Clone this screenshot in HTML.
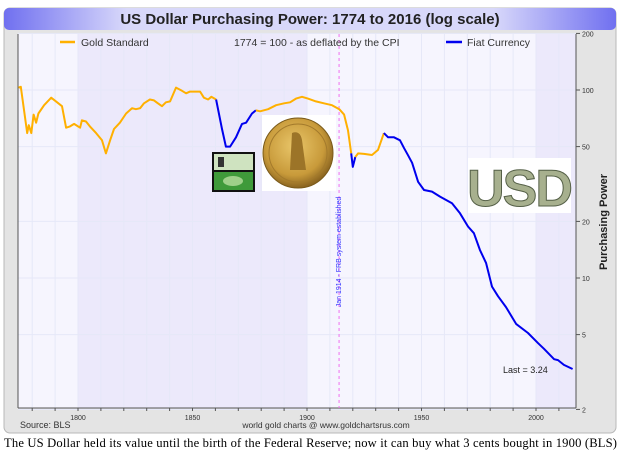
<!DOCTYPE html>
<html><head><meta charset="utf-8"><style>
body{margin:0;width:624px;height:462px;background:#fff;overflow:hidden;font-family:"Liberation Sans",sans-serif}
</style></head><body>
<svg width="624" height="462" xmlns="http://www.w3.org/2000/svg">
<defs>
<linearGradient id="tb" x1="0" x2="1" y1="0" y2="0">
<stop offset="0" stop-color="#7070f0"/><stop offset="0.2" stop-color="#d8d8fa"/><stop offset="0.8" stop-color="#d8d8fa"/><stop offset="1" stop-color="#7070f0"/></linearGradient>
<radialGradient id="coin" cx="0.45" cy="0.4" r="0.6"><stop offset="0" stop-color="#e9c66a"/><stop offset="0.7" stop-color="#c89a3a"/><stop offset="1" stop-color="#8a6420"/></radialGradient>
</defs>
<rect x="4" y="8" width="612" height="425" rx="6" fill="#e4e4e4" stroke="#b8b8b8"/>
<rect x="4" y="8" width="612" height="22" rx="5" fill="url(#tb)"/>
<text x="310" y="24" text-anchor="middle" font-size="15" font-weight="bold" fill="#222">US Dollar Purchasing Power: 1774 to 2016 (log scale)</text>
<rect x="18" y="34" width="558" height="374" fill="#f6f5fe"/>
<g id="bands"></g>
<g id="grid"></g>
<line x1="18" y1="34" x2="18" y2="408" stroke="#555"/>
<line x1="18" y1="408" x2="576" y2="408" stroke="#555"/>
<line x1="576" y1="34" x2="576" y2="408" stroke="#555"/>
<g id="xticks"></g><g id="yticks"></g>
<line id="frb" y1="34" y2="408" stroke="#f070f0" stroke-width="1" stroke-dasharray="3,3"/>
<text id="frbtext" font-size="7" fill="#3030ff" text-anchor="middle">Jan 1914 - FRB system established</text>
<g id="series"></g>
<!-- images -->
<g>
<rect x="212" y="152" width="43" height="40" fill="#111"/>
<rect x="214" y="154" width="39" height="16" fill="#cfe3c0"/>
<rect x="214" y="172" width="39" height="18" fill="#3f9a3a"/>
<ellipse cx="233" cy="181" rx="10" ry="5" fill="#9fd08a"/>
<rect x="218" y="157" width="6" height="10" fill="#333"/>
</g>
<g>
<rect x="262" y="115" width="74" height="76" fill="#fff"/>
<circle cx="298" cy="153" r="35" fill="url(#coin)" stroke="#7a5a1a"/>
<circle cx="298" cy="153" r="29" fill="none" stroke="#a37a2c" stroke-width="1"/>
<path d="M292 133 Q300 130 302 140 L306 170 L290 170 Z" fill="#9c7428"/>
</g>
<g>
<rect x="468" y="158" width="103" height="55" fill="#fff"/>
<text x="519" y="206" text-anchor="middle" font-size="52" font-weight="bold" fill="#a7b08e" stroke="#556047" stroke-width="1" font-family="Liberation Sans,sans-serif" letter-spacing="-2">USD</text>
</g>
<!-- legend -->
<line x1="60" y1="42" x2="75" y2="42" stroke="#ffb000" stroke-width="2.5"/>
<text x="81" y="46" font-size="10.5" fill="#333">Gold Standard</text>
<text x="234" y="46" font-size="10.5" fill="#333">1774 = 100 - as deflated by the CPI</text>
<line x1="446" y1="42" x2="462" y2="42" stroke="#0000ee" stroke-width="2.5"/>
<text x="467" y="46" font-size="10.5" fill="#333">Fiat Currency</text>
<text x="503" y="373" font-size="9" fill="#222">Last = 3.24</text>
<text transform="translate(607,222) rotate(-90)" text-anchor="middle" font-size="11" font-weight="bold" fill="#222">Purchasing Power</text>
<text x="20" y="428" font-size="9" fill="#333">Source: BLS</text>
<text x="326" y="428" font-size="8.5" fill="#333" text-anchor="middle">world gold charts @ www.goldchartsrus.com</text>
<text x="4" y="447" font-size="12.6" fill="#000" font-family="Liberation Serif,serif" textLength="613">The US Dollar held its value until the birth of the Federal Reserve; now it can buy what 3 cents bought in 1900 (BLS)</text>
<script>
const goldYears1=[1774,1775,1777.8,1778.5,1779.6,1780.6,1781.7,1782.7,1785.2,1788.3,1790.4,1793,1794.8,1796.5,1798.3,1800.9,1801.7,1803.5,1805.2,1807.9,1810.5,1812.2,1814,1815.7,1818.3,1821,1823.6,1825.3,1827.1,1828.8,1831.4,1833.2,1834.9,1836.7,1838.4,1840.2,1842.8,1845.4,1847.2,1848.9,1851.5,1853.3,1855,1856.8,1858.2,1860.3];
const goldValues1=[103,104,59,65,59,74,67,75,83,91,87,82,63,64,66,63,69,68,64,59,54,46,54,62,67,75,80,79,80,85,89,88,85,82,86,87,103,99,96,98,98,98,91,89,92,89];
const fiatYears1=[1860.3,1862.9,1864.6,1866.4,1869,1871.6,1873.4,1876,1877.7];
const fiatValues1=[89,62,50,50,56,66,67,75,78];
const goldYears2=[1877.7,1879.5,1883,1886.5,1890,1892.6,1895.2,1897.8,1900.4,1903.9,1907.4,1910.9,1914.1,1916.2,1917.9,1919.3];
const goldValues2=[78,77,79,83,85,86,90,92,90,87,85,83,79,74,61,46];
const fiatYears2=[1919.3,1920,1921.1];
const fiatValues2=[46,39,44];
const goldYears3=[1921.1,1922.3,1924.9,1928.4,1931,1933.6];
const goldValues3=[44,46,45.7,45.1,48,59];
const fiatYears3=[1933.6,1935.4,1938,1940.6,1942.4,1944.1,1945.9,1948.5,1951.1,1954.6,1958.1,1963.3,1966.8,1970.3,1972.9,1975.5,1978.2,1980.8,1983.4,1986.9,1991.3,1996.5,2000.9,2003.5,2007.9,2009.6,2012.2,2016];
const fiatValues3=[59,56,56,54,49,45,41,32.5,29.4,28.8,27.1,25,22.1,18.8,17.3,14.1,12,9,8,7,5.7,5.1,4.5,4.2,3.7,3.66,3.45,3.28];
const yTicks=[200,100,50,20,10,5,2];
const xLabels=[1800,1850,1900,1950,2000];
const frbYear=1914;

const NS="http://www.w3.org/2000/svg";
const X=y=>78+(y-1800)*2.29;
const Y=v=>90-188*Math.log10(v/100);
function mk(t,a,p){const e=document.createElementNS(NS,t);for(const k in a)e.setAttribute(k,a[k]);p.appendChild(e);return e;}
const bands=document.getElementById('bands');
let b=mk('rect',{x:X(1800),y:34,width:X(1900)-X(1800),height:374,fill:'#ece9fb'},bands);


b=mk('rect',{x:X(2000),y:34,width:576-X(2000),height:374,fill:'#ece9fb'},bands);


const grid=document.getElementById('grid'),xt=document.getElementById('xticks');
for(let yr=1780;yr<=2010;yr+=10){
  const g=mk('line',{x1:X(yr),x2:X(yr),y1:34,y2:408,stroke:'#e6e8f8','stroke-width':1},grid);
  
  
  const t=mk('line',{x1:X(yr),x2:X(yr),y1:408,y2:411,stroke:'#555'},xt);
  
  
}
xLabels.forEach(yr=>{
  const t=mk('text',{x:X(yr),y:420,'font-size':7,'text-anchor':'middle',fill:'#333'},xt);
  t.textContent=yr;
  
  
});
const yt=document.getElementById('yticks');
yTicks.forEach(v=>{
  const g=mk('line',{x1:18,x2:576,y1:Y(v),y2:Y(v),stroke:'#e6e8f8'},grid);
  
  
  const t=mk('line',{x1:576,x2:580,y1:Y(v),y2:Y(v),stroke:'#555'},yt);
  
  
  const l=mk('text',{x:582,y:Y(v)+3,'font-size':7,fill:'#333'},yt);
  l.textContent=v;
  
  
});
const frb=document.getElementById('frb');
frb.setAttribute('x1',X(frbYear));frb.setAttribute('x2',X(frbYear));
const ft=document.getElementById('frbtext');
ft.setAttribute('transform','translate('+(X(frbYear)+2)+',252) rotate(-90)');
const ser=document.getElementById('series');
[[goldYears1,goldValues1,'#ffb000','gold-standard-1774-1860'],[fiatYears1,fiatValues1,'#0000ee','fiat-civil-war'],[goldYears2,goldValues2,'#ffb000','gold-standard-1879-1919'],[fiatYears2,fiatValues2,'#0000ee','fiat-1920'],[goldYears3,goldValues3,'#ffb000','gold-standard-1921-1933'],[fiatYears3,fiatValues3,'#0000ee','fiat-currency-1933-2016']].forEach(s=>{
  const pts=s[0].map((yr,i)=>X(yr).toFixed(1)+','+Y(s[1][i]).toFixed(1)).join(' ');
  const p=mk('polyline',{points:pts,fill:'none',stroke:s[2],'stroke-width':2,'stroke-linejoin':'round'},ser);
  
  
});
</script>
</svg>
</body></html>
